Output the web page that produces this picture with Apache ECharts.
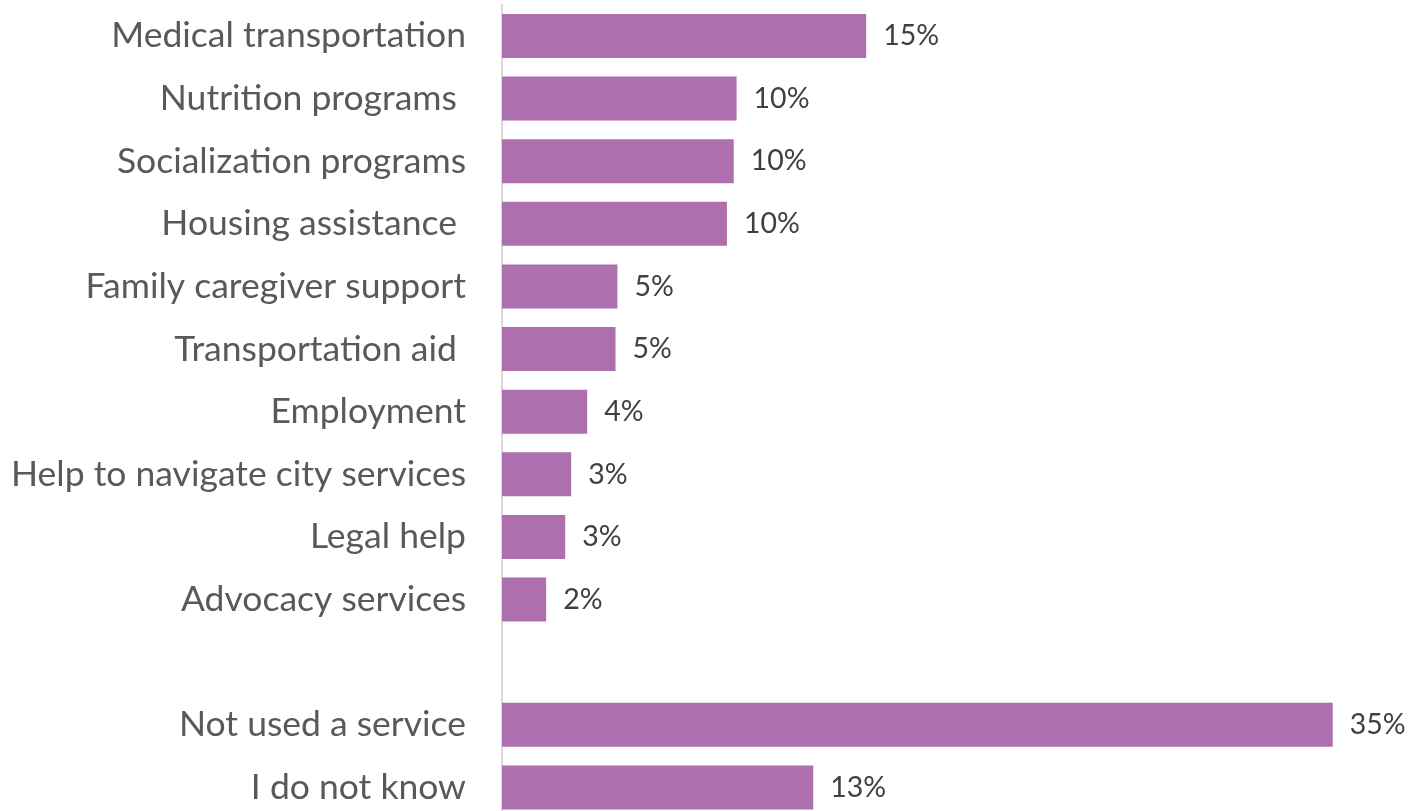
<!DOCTYPE html>
<html>
<head>
<meta charset="utf-8">
<script src="https://cdn.jsdelivr.net/npm/echarts@6/dist/echarts.min.js"></script>
<style>
  html, body { margin: 0; padding: 0; background: #ffffff; }
  #chart { width: 1416px; height: 811px; }
</style>
</head>
<body>
<div id="chart"></div>
<script>
// Services used (share of respondents, %). The blank row separates the two groups.
const categories = [
  'Medical transportation',
  'Nutrition programs ',
  'Socialization programs',
  'Housing assistance ',
  'Family caregiver support',
  'Transportation aid ',
  'Employment',
  'Help to navigate city services',
  'Legal help',
  'Advocacy services',
  '',
  'Not used a service',
  'I do not know'
];
const shares = [15.43, 9.94, 9.82, 9.53, 4.89, 4.81, 3.61, 2.93, 2.68, 1.87, null, 35.2, 13.19];

const FONT = 'Lato, "Open Sans", sans-serif';
const chart = echarts.init(document.getElementById('chart'), null, { renderer: 'canvas' });

chart.setOption({
  animation: false,
  backgroundColor: '#ffffff',
  grid: {
    left: 502, top: 4.7, width: 36 * 23.6, height: 814,
    containLabel: false,
    outerBoundsMode: 'none'
  },
  xAxis: {
    type: 'value',
    min: 0,
    max: 36,
    show: false
  },
  yAxis: {
    type: 'category',
    inverse: true,
    data: categories,
    axisTick: { show: false },
    axisLine: { show: true, lineStyle: { color: '#d9d9d9', width: 2 } },
    axisLabel: {
      margin: 36,
      fontFamily: FONT,
      fontSize: 35.5,
      color: '#595959'
    },
    splitLine: { show: false }
  },
  series: [{
    type: 'bar',
    data: shares,
    barWidth: 44,
    itemStyle: { color: '#ad6fad' },
    label: {
      show: true,
      position: 'right',
      distance: 17,
      fontFamily: FONT,
      fontSize: 28.5,
      color: '#404040',
      formatter: p => (p.value == null ? '' : Math.round(p.value) + '%')
    }
  }]
});
</script>
</body>
</html>
